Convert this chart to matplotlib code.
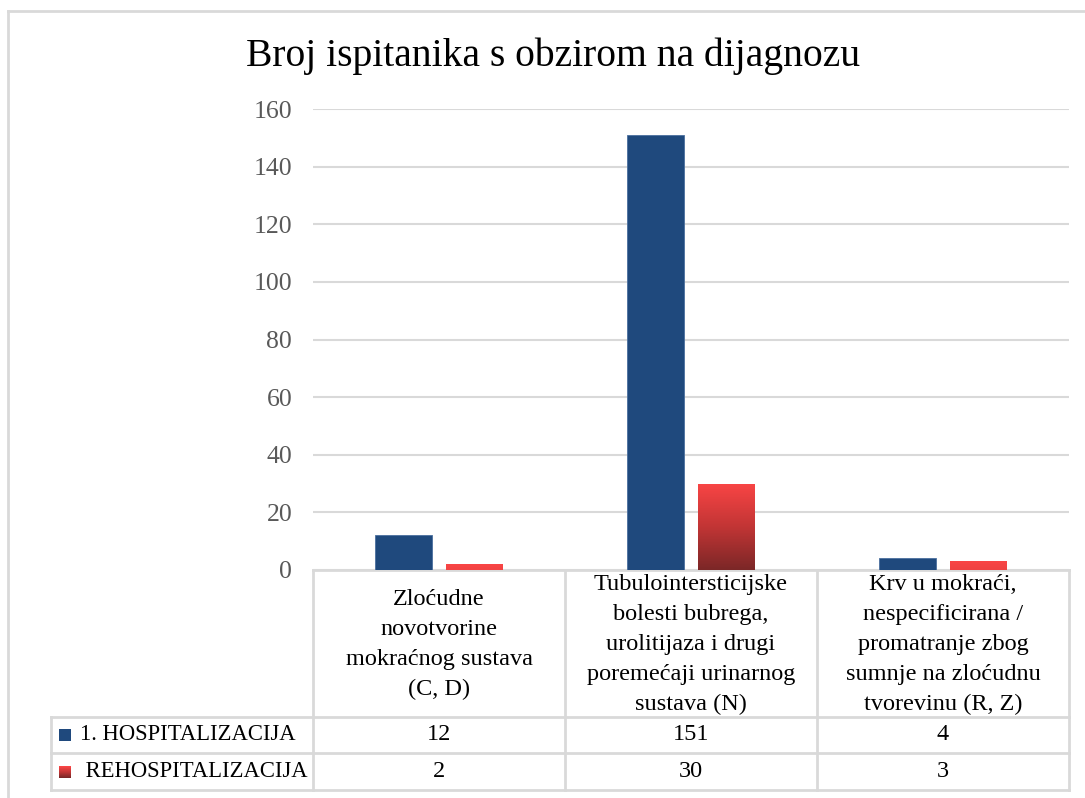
import matplotlib.pyplot as plt
import numpy as np
from matplotlib.colors import LinearSegmentedColormap
from matplotlib.patches import Rectangle

# Data
categories = [
    "Zloćudne\nnovotvorine\nmokraćnog sustava\n(C, D)",
    "Tubulointersticijske\nbolesti bubrega,\nurolitijaza i drugi\nporemećaji urinarnog\nsustava (N)",
    "Krv u mokraći,\nnespecificirana /\npromatranje zbog\nsumnje na zloćudnu\ntvorevinu (R, Z)",
]
series_names = ["1. HOSPITALIZACIJA", " REHOSPITALIZACIJA"]
first_hosp = [12, 151, 4]
rehosp = [2, 30, 3]
title = "Broj ispitanika s obzirom na dijagnozu"

BLUE = "#1f497d"
GRID = "#d9d9d9"
red_cmap = LinearSegmentedColormap.from_list("redgrad", ["#7b2727", "#c23535", "#f94545"])

plt.rcParams["font.family"] = "Liberation Serif"
FS = 17.5

W, H = 1085, 798
fig = plt.figure(figsize=(W / 100, H / 100), dpi=100)

# overlay in pixel coordinates for chart frame and table
ov = fig.add_axes([0, 0, 1, 1])
ov.set_xlim(0, W)
ov.set_ylim(H, 0)
ov.axis("off")

# bar plot area
left, right, top, bottom = 313, 1069, 109, 570
ax = fig.add_axes([left / W, 1 - bottom / H, (right - left) / W, (bottom - top) / H])
x = np.arange(len(categories))
bw = 0.226
gap = 0.028
ax.bar(x - bw / 2 - gap, first_hosp, bw, color=BLUE, edgecolor="#4a6f9e", linewidth=0.6, zorder=3)
red_bars = ax.bar(x + bw / 2 + gap, rehosp, bw, color="none", zorder=3)
grad = np.linspace(0, 1, 256).reshape(-1, 1)
span = max(rehosp)
for b in red_bars:
    bx, h = b.get_x(), b.get_height()
    # gradient runs down from the top of each bar
    im = ax.imshow(grad, cmap=red_cmap, origin="lower", aspect="auto",
                   extent=[bx, bx + b.get_width(), h - span, h], zorder=3)
    im.set_clip_path(b)

ax.set_xlim(-0.5, len(categories) - 0.5)
ax.set_ylim(0, 160)
ax.set_yticks(range(0, 161, 20))
ax.yaxis.grid(True, color=GRID, linewidth=1.5, zorder=0)
ax.tick_params(axis="y", length=0, pad=15, labelsize=18.5, labelcolor="#595959")
ax.tick_params(axis="x", bottom=False, labelbottom=False)
for s in ax.spines.values():
    s.set_visible(False)
ax.set_facecolor("none")

# chart frame (left and top edges visible)
ov.plot([8, 8], [11, H], color=GRID, lw=2)
ov.plot([8, W], [11, 11], color=GRID, lw=2)

# title
ov.text(553, 56, title, ha="center", va="center", fontsize=28.5, color="#000000")

# data table
col_edges = [313, 565, 817, 1069]
row_edges = [570, 717, 753, 790]
lab_left = 51
tc = GRID
ov.plot([col_edges[0], col_edges[-1]], [row_edges[0]] * 2, color=tc, lw=2)
for yy in row_edges[1:]:
    ov.plot([lab_left, col_edges[-1]], [yy, yy], color=tc, lw=2)
for xx in col_edges:
    ov.plot([xx, xx], [row_edges[0], row_edges[-1]], color=tc, lw=2)
ov.plot([lab_left, lab_left], [row_edges[1], row_edges[-1]], color=tc, lw=2)

for i, cat in enumerate(categories):
    cx = (col_edges[i] + col_edges[i + 1]) / 2
    ov.text(cx, (row_edges[0] + row_edges[1]) / 2 + 1, cat, ha="center", va="center",
            fontsize=FS, linespacing=1.55, color="#000000")

rows = [first_hosp, rehosp]
for r, (name, vals) in enumerate(zip(series_names, rows)):
    cy = (row_edges[r + 1] + row_edges[r + 2]) / 2
    if r == 0:
        ov.add_patch(Rectangle((59, cy - 6), 12, 12, color=BLUE, lw=0))
    else:
        # small gradient swatch, bright at top, dark at bottom
        for k in range(12):
            ov.add_patch(Rectangle((59, cy - 6 + k), 12, 1.05,
                                   color=red_cmap(1 - k / 11), lw=0))
    ov.text(80, cy, name, ha="left", va="center", fontsize=16.3, color="#000000")
    for i, v in enumerate(vals):
        cx = (col_edges[i] + col_edges[i + 1]) / 2
        ov.text(cx, cy, str(v), ha="center", va="center", fontsize=FS, color="#000000")

ov.set_xlim(0, W)
ov.set_ylim(H, 0)

fig.savefig("out.png", dpi=100)
